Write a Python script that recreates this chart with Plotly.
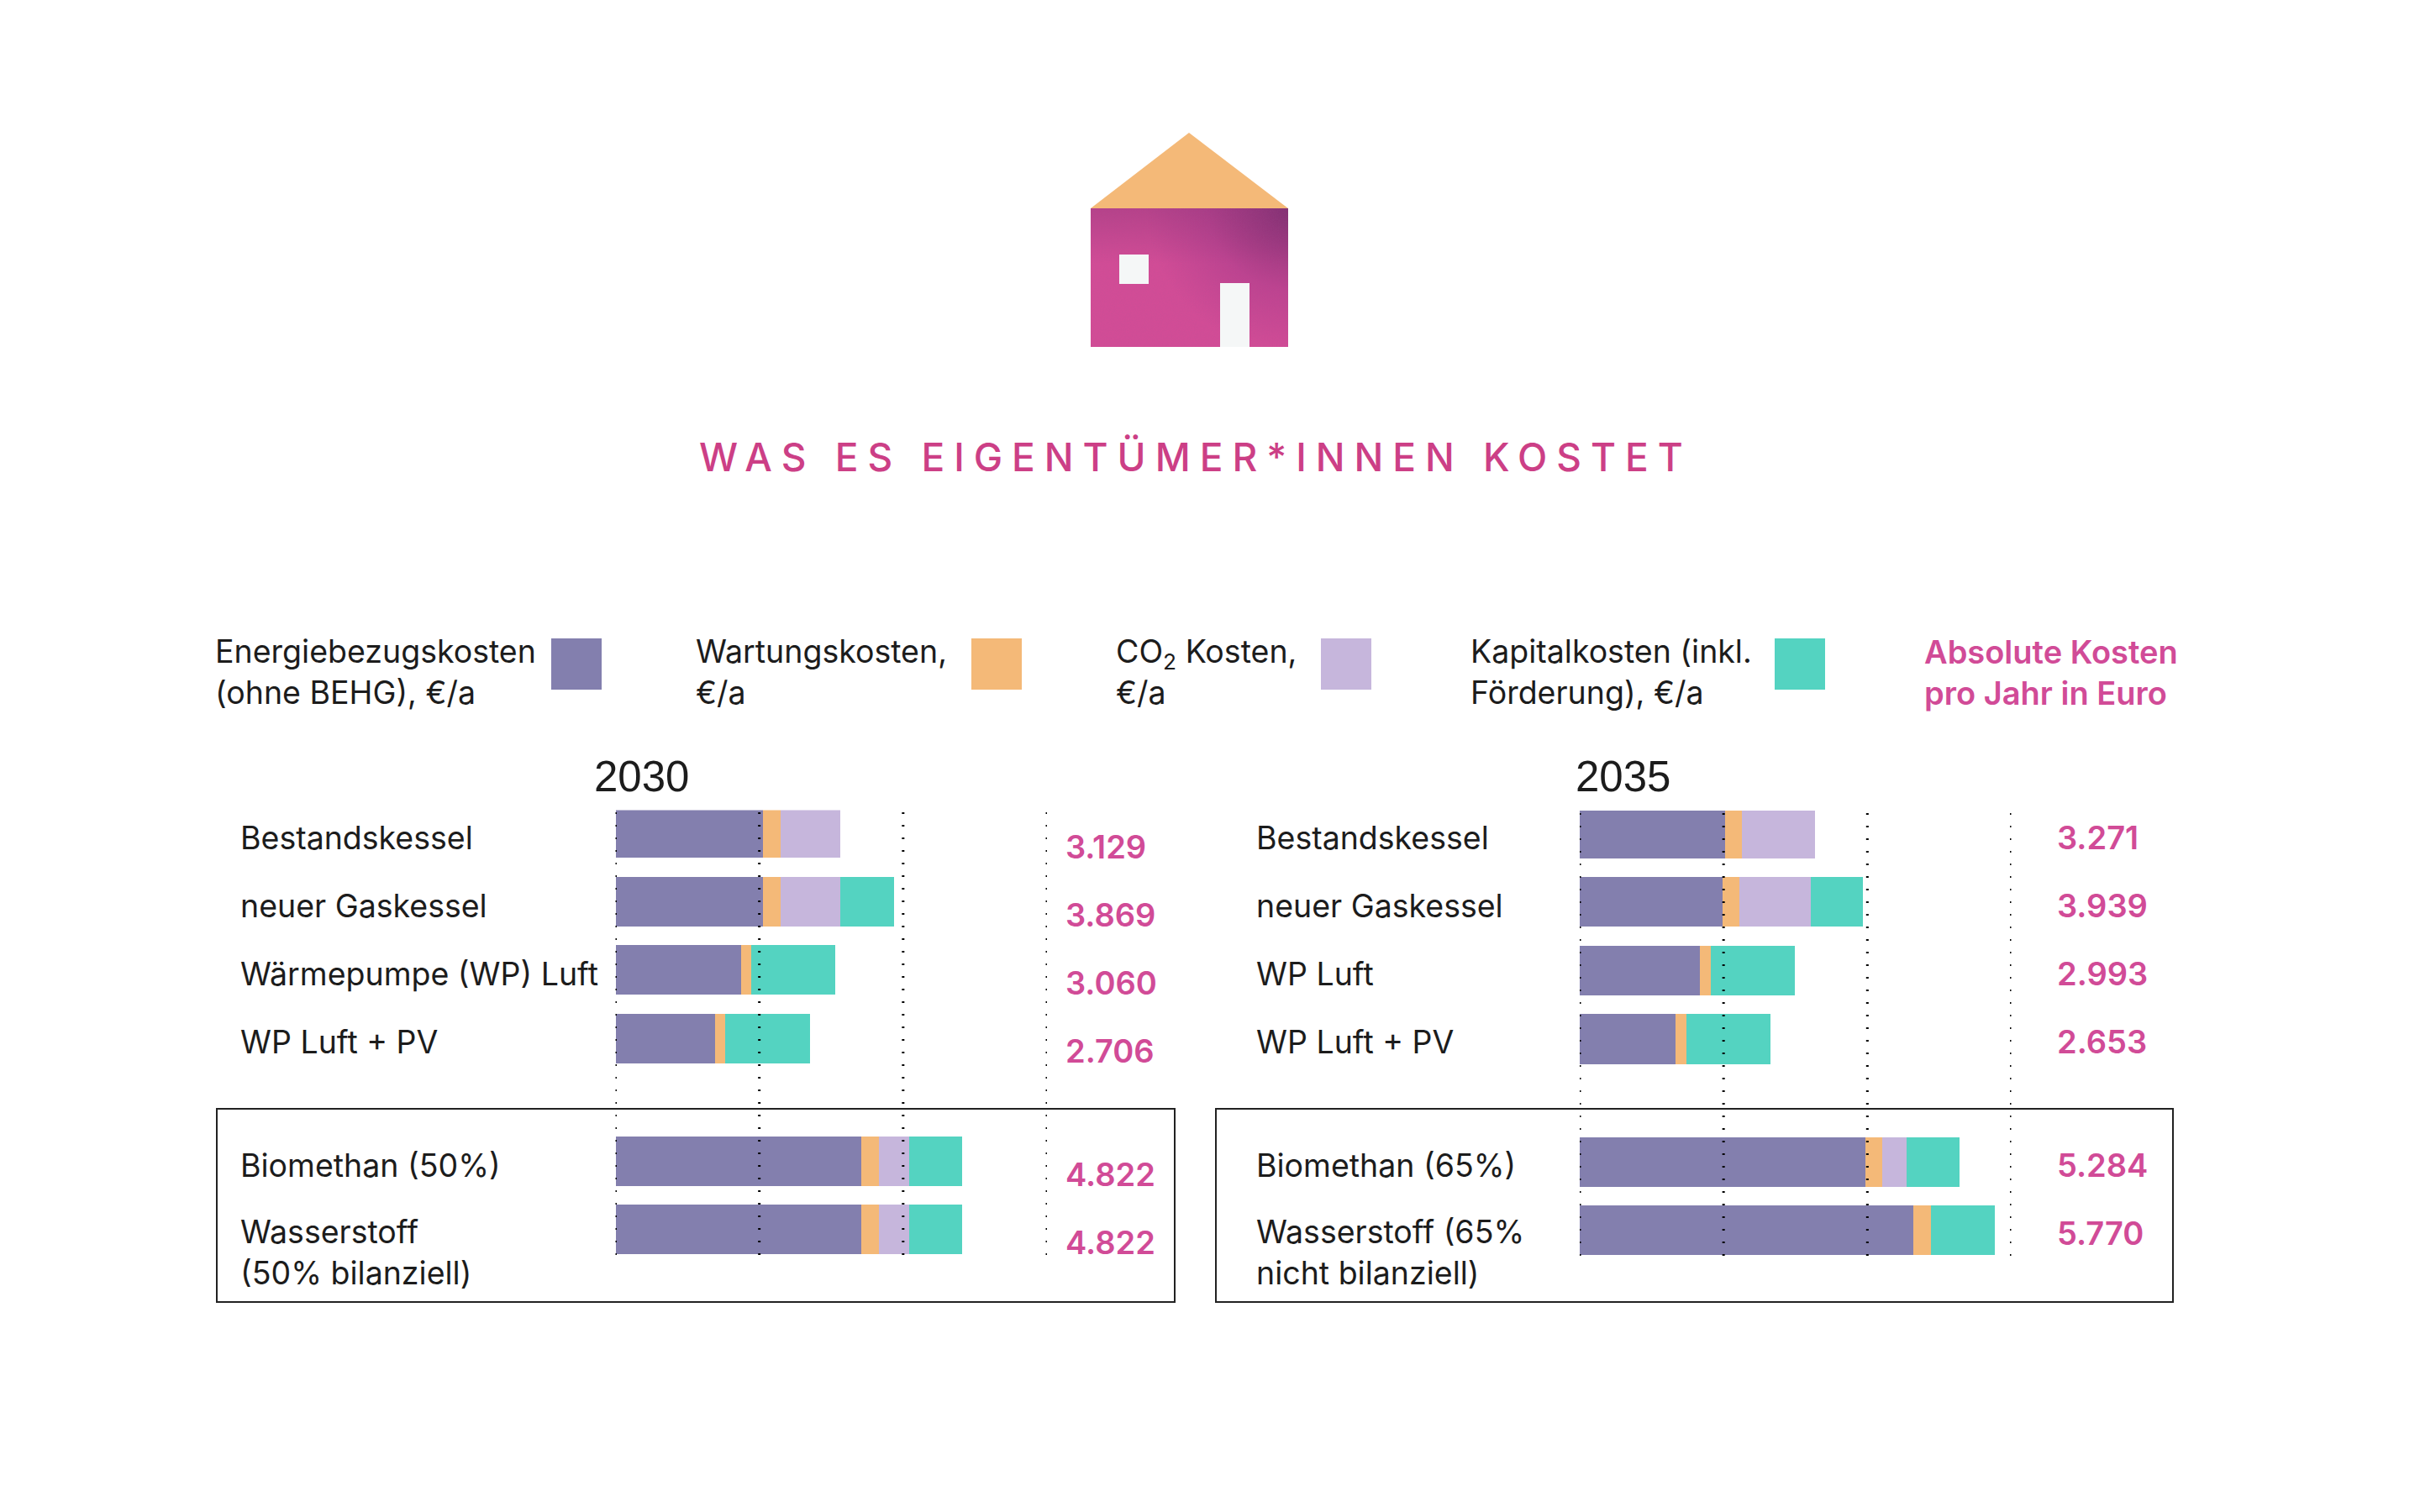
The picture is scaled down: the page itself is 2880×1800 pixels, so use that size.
import base64
import plotly.graph_objects as go

W, H = 2880, 1800

COMPONENTS = ["Energiebezugskosten", "Wartungskosten", "CO2 Kosten", "Kapitalkosten"]
COLORS = ["#837FAE", "#F4B978", "#C6B6DC", "#54D3C1"]

LABELS_2030 = ["Bestandskessel", "neuer Gaskessel", "Wärmepumpe (WP) Luft", "WP Luft + PV",
               "Biomethan (50%)", "Wasserstoff<br>(50% bilanziell)"]
ENERGY_2030 = [2050, 2050, 1742, 1380, 3420, 3420]
MAINT_2030 = [245, 245, 150, 150, 240, 240]
CO2_2030 = [834, 834, 0, 0, 420, 420]
CAPITAL_2030 = [0, 740, 1168, 1176, 742, 742]
TOTALS_2030 = ["3.129", "3.869", "3.060", "2.706", "4.822", "4.822"]

LABELS_2035 = ["Bestandskessel", "neuer Gaskessel", "WP Luft", "WP Luft + PV",
               "Biomethan (65%)", "Wasserstoff (65%<br>nicht bilanziell)"]
ENERGY_2035 = [2020, 1985, 1670, 1330, 3970, 4640]
MAINT_2035 = [240, 240, 150, 150, 240, 240]
CO2_2035 = [1011, 990, 0, 0, 330, 0]
CAPITAL_2035 = [0, 724, 1173, 1173, 744, 890]
TOTALS_2035 = ["3.271", "3.939", "2.993", "2.653", "5.284", "5.770"]

GRID_TICKS = [0, 2000, 4000, 6000]
ROW_POSITIONS = [0, 1, 2, 3, 4.79, 5.79]

LEGEND_TEXTS = ["Energiebezugskosten<br>(ohne BEHG), €/a", "Wartungskosten,<br>€/a",
                "CO<sub>2</sub> Kosten,<br>€/a", "Kapitalkosten (inkl.<br>Förderung), €/a"]
TOTALS_HEAD = "Absolute Kosten<br>pro Jahr in Euro"
TITLE = "WAS ES EIGENTÜMER*INNEN KOSTET"

FONT = "Inter"
INK = "#1c1c1c"
PINK = "#D14B97"
TITLE_PINK = "#CC3F86"


def px(x):
    return x / W


def py(y):
    return 1 - y / H


fig = go.Figure()
panels = [
    ("x", "y", (ENERGY_2030, MAINT_2030, CO2_2030, CAPITAL_2030)),
    ("x2", "y2", (ENERGY_2035, MAINT_2035, CO2_2035, CAPITAL_2035)),
]
for xa, ya, series in panels:
    for name, color, vals in zip(COMPONENTS, COLORS, series):
        fig.add_trace(go.Bar(x=vals, y=ROW_POSITIONS, name=name, orientation="h", width=0.725,
                             marker=dict(color=color, line=dict(width=0)),
                             xaxis=xa, yaxis=ya, showlegend=False, hoverinfo="skip"))

y_range = [-0.331, 6.16]
hidden = dict(visible=False, showgrid=False, zeroline=False, fixedrange=True)
fig.update_layout(
    width=W, height=H, autosize=False, margin=dict(l=0, r=0, t=0, b=0),
    paper_bgcolor="white", plot_bgcolor="rgba(0,0,0,0)", barmode="stack",
    xaxis=dict(domain=[px(732.5), px(1246)], range=[0, 6000], **hidden),
    yaxis=dict(domain=[py(1494), py(964.5)], range=y_range[::-1], anchor="x", **hidden),
    xaxis2=dict(domain=[px(1880), px(2393.5)], range=[0, 6000], anchor="y2", **hidden),
    yaxis2=dict(domain=[py(1495), py(965)], range=y_range[::-1], anchor="x2", **hidden),
)

shapes = []
# Dotted reference lines, above the bars
for xr, yr in (("x", "y domain"), ("x2", "y2 domain")):
    for t in GRID_TICKS:
        shapes.append(dict(type="line", xref=xr, yref=yr, x0=t, x1=t, y0=0, y1=1, layer="above",
                           line=dict(color="#000000", width=3, dash="2px,13px")))
# Frames round the lower rows
for x0, x1 in ((258, 1398), (1447, 2586)):
    shapes.append(dict(type="rect", xref="paper", yref="paper", x0=px(x0), x1=px(x1), y0=py(1320), y1=py(1550),
                       line=dict(color="#222222", width=2), fillcolor="rgba(0,0,0,0)", layer="below"))
# Legend swatches
for (x0, x1), color in zip(((656, 716), (1156, 1216), (1572, 1632), (2112, 2172)), COLORS):
    shapes.append(dict(type="rect", xref="paper", yref="paper", x0=px(x0), x1=px(x1), y0=py(760), y1=py(821),
                       line=dict(width=0), fillcolor=color))
fig.update_layout(shapes=shapes)


def note(x, y, text, size=37.5, color=INK, anchor="left", family=FONT, weight=400, name=None):
    fig.add_annotation(xref="paper", yref="paper", x=px(x), y=py(y), text=text, showarrow=False,
                       xanchor=anchor, yanchor="middle", align="left", name=name,
                       font=dict(family=family, size=size, color=color, weight=weight))


note(830, 544, TITLE, size=46, color=TITLE_PINK, weight=500, name="title")
for x, t in zip((254, 826, 1326, 1748), LEGEND_TEXTS):
    note(x, 800, t)
note(2288, 800, TOTALS_HEAD, color=PINK, weight=600, size=38)
note(705, 924, "2030", size=51, family="Liberation Sans")
note(1873, 924, "2035", size=51, family="Liberation Sans")

LABEL_Y = [997, 1078, 1159, 1240, 1387, 1491]
VALUE_Y_2030 = [1008, 1089, 1170, 1251, 1398, 1479]
VALUE_Y_2035 = [997, 1078, 1159, 1240, 1387, 1468]
for lab, y in zip(LABELS_2030, LABEL_Y):
    note(284, y, lab)
for lab, y in zip(LABELS_2035, LABEL_Y):
    note(1493, y, lab)
for v, y in zip(TOTALS_2030, VALUE_Y_2030):
    note(1266, y, v, size=38, color=PINK, weight=600)
for v, y in zip(TOTALS_2035, VALUE_Y_2035):
    note(2446, y, v, size=38, color=PINK, weight=600)

# House pictogram
svg = """<svg xmlns='http://www.w3.org/2000/svg' width='235' height='255' viewBox='0 0 235 255'>
<defs><radialGradient id='g' gradientUnits='userSpaceOnUse' cx='240' cy='85' r='175'>
<stop offset='0' stop-color='#7A2E6E'/><stop offset='0.2' stop-color='#96367C'/>
<stop offset='0.58' stop-color='#BD4390'/><stop offset='1' stop-color='#D24C96'/></radialGradient>
<linearGradient id='t' x1='0' y1='0' x2='0' y2='1'><stop offset='0' stop-color='#8A3378' stop-opacity='0.4'/>
<stop offset='0.4' stop-color='#8A3378' stop-opacity='0'/></linearGradient>
<filter id='n' x='0' y='0' width='100%' height='100%'><feTurbulence type='fractalNoise' baseFrequency='1.1' numOctaves='2' seed='3'/>
<feColorMatrix type='matrix' values='0 0 0 0 0.35  0 0 0 0 0.1  0 0 0 0 0.3  0.9 0 0 0 -0.3'/></filter></defs>
<polygon points='0,90 117,0 235,90' fill='#F4B978'/>
<rect x='0' y='90' width='235' height='165' fill='url(#g)'/>
<rect x='0' y='90' width='235' height='165' fill='url(#t)'/>
<rect x='0' y='90' width='235' height='165' filter='url(#n)' opacity='0.25'/>
<rect x='34' y='145' width='35' height='35' fill='#F5F7F7'/>
<rect x='154' y='179' width='35' height='76' fill='#F5F7F7'/></svg>"""
uri = "data:image/svg+xml;base64," + base64.b64encode(svg.encode()).decode()
fig.add_layout_image(dict(source=uri, xref="paper", yref="paper", x=px(1298), y=py(158),
                          sizex=235 / W, sizey=255 / H, xanchor="left", yanchor="top",
                          sizing="stretch", layer="above"))

post = """
document.body.style.margin='0';
document.querySelectorAll('.annotation-text').forEach(function(t){
  if(t.textContent.indexOf('WAS ES')===0){t.style.letterSpacing='11px';}
});
"""
fig.write_html("out.html", post_script=post, config={"displayModeBar": False})
